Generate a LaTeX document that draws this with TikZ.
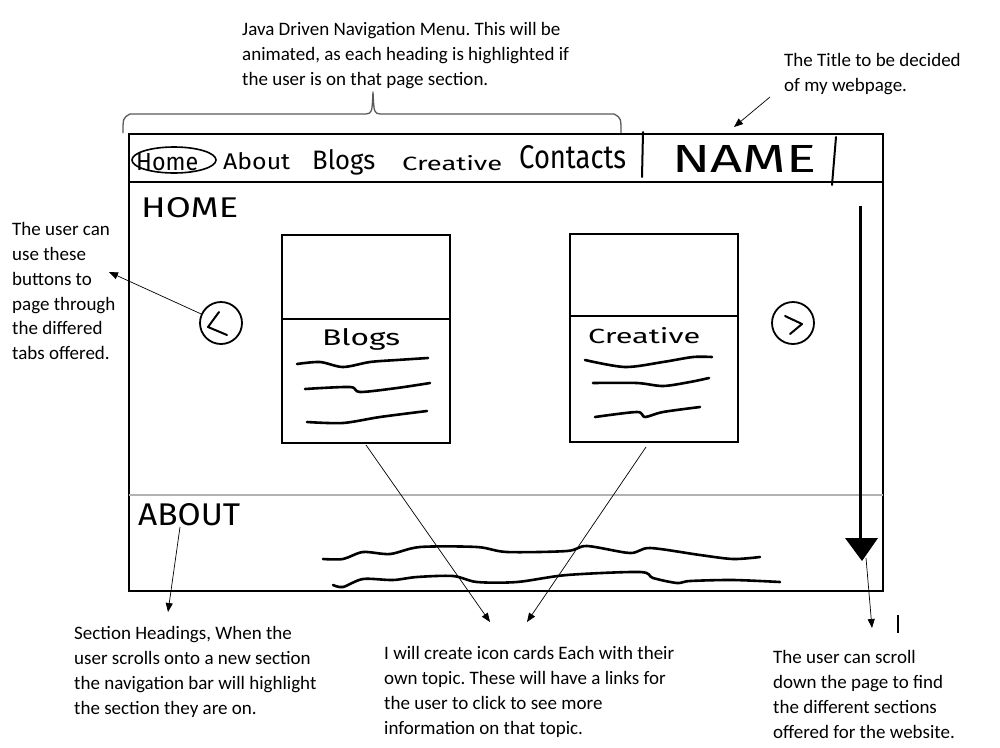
\documentclass[tikz,border=0pt]{standalone}
\usepackage{fontspec}
\usepackage{graphicx}
\setmainfont{Carlito}
\newfontfamily\handfont{Fira Sans}
\usetikzlibrary{arrows.meta}
\newcommand{\hw}[3]{\resizebox{#1pt}{#2pt}{\handfont #3}}
\begin{document}
\frenchspacing
\begin{tikzpicture}[x=1pt,y=-1pt,
  note/.style={font=\fontsize{19}{24.9}\selectfont, align=left, anchor=north west, inner sep=0pt},
  word/.style={anchor=base west, inner sep=0pt},
  frameline/.style={line width=1.8pt},
  cardbox/.style={draw, line width=2.2pt, minimum width=168pt, minimum height=208pt, inner sep=0pt},
  btn/.style={draw, circle, line width=1.8pt, minimum size=42pt, inner sep=0pt},
  squig/.style={line width=2.6pt, line cap=round, line join=round},
  ann/.style={-{Triangle[length=9pt,width=7pt]}, line width=0.7pt},
  chev/.style={line width=2pt, line cap=round, line join=round}]
\useasboundingbox (0,0) rectangle (1000,747);
\fill[white] (0,0) rectangle (1000,747);

% annotations
\node[note] (topnote) at (242,22) {Java Driven Navigation Menu. This will be\\animated, as each heading is highlighted if\\the user is on that page section.};
\node[note] (titlenote) at (784,53) {The Title to be decided\\of my webpage.};
\node[note] (btnnote) at (12,222) {The user can\\use these\\buttons to\\page through\\the differed\\tabs offered.};
\node[note] (secnote) at (74,626) {Section Headings, When the\\user scrolls onto a new section\\the navigation bar will highlight\\the section they are on.};
\node[note] (cardnote) at (384,646) {I will create icon cards Each with their\\own topic. These will have a links for\\the user to click to see more\\information on that topic.};
\node[note] (scrollnote) at (773,650) {The user can scroll\\down the page to find\\the different sections\\offered for the website.};

% brace
\draw[line width=1.3pt, black!65, line join=round]
  (123,133) .. controls (123,118) .. (130,114) -- (366,114) .. controls (372,113) .. (373,92)
  .. controls (374,113) .. (380,114) -- (614,114) .. controls (621,118) .. (621,133);

% frame
\draw[frameline] (129,134) rectangle (883,591);
\draw[line width=2.8pt] (129,182) -- (883,182);
\draw[line width=2.6pt, black!30] (129,495) -- (883,495);

% nav bar
\draw[line width=1.6pt] (174,160) ellipse (42pt and 13pt);
\node[word] (home) at (136,170) {\hw{62}{17}{Home}};
\node[word] (about) at (223,169) {\hw{67}{17}{About}};
\node[word] (blogs) at (312,169) {\hw{63}{20}{Blogs}};
\node[word] (creative) at (402,170) {\hw{100}{15}{Creative}};
\node[word] (contacts) at (519,168) {\hw{107}{23}{Contacts}};
\draw[line width=2pt, line cap=round] (643,132) -- (642,177);
\draw[line width=2pt, line cap=round] (836,137) -- (832,185);
\node[word] (name) at (672,172) {\hw{144}{27}{NAME}};

% section headings
\node[word] (homehead) at (141,217) {\hw{97}{20}{HOME}};
\node[word] (abouthead) at (138,525) {\hw{102}{22}{ABOUT}};

% buttons
\node[btn] (prev) at (221,323) {};
\node[btn] (next) at (793,323) {};
\draw[chev] (219,312) -- (208,327) -- (227,335);
\draw[chev] (785,316) -- (802,324) -- (790,334);

% cards
\node[cardbox] (card1) at (366,339) {};
\node[cardbox] (card2) at (654,338) {};
\draw[line width=2.2pt] (282,319) -- (450,319);
\draw[line width=2.2pt] (570,316) -- (738,316);
\node[word] (blogslbl) at (322,345) {\hw{78}{17}{Blogs}};
\node[word] (creativelbl) at (588,343) {\hw{112}{16}{Creative}};

\draw[squig] plot[smooth] coordinates {(297,364) (320,362) (343,367) (370,362) (397,360) (428,358)};
\draw[squig] plot[smooth] coordinates {(305,389) (350,387) (360,392) (397,388) (430,383)};
\draw[squig] plot[smooth] coordinates {(307,422) (343,423) (380,417) (427,411)};
\draw[squig] plot[smooth] coordinates {(585,360) (625,367) (663,362) (693,357) (712,357)};
\draw[squig] plot[smooth] coordinates {(593,383) (637,383) (663,386) (690,382) (709,378)};
\draw[squig] plot[smooth] coordinates {(595,417) (637,412) (645,417) (663,412) (700,407)};

% about squiggles
\draw[squig] plot[smooth] coordinates {(323,559) (343,559) (363,552) (390,554) (420,547) (477,547) (507,552) (567,551) (587,546) (630,553) (650,548) (700,555) (733,559) (760,557)};
\draw[squig] plot[smooth] coordinates {(333,585) (343,587) (363,579) (393,580) (417,577) (453,576) (477,582) (517,582) (567,575) (640,572) (653,578) (677,583) (690,581) (733,580) (780,582)};

% scroll arrow
\coordinate (scrolltop) at (860,206);
\coordinate (scrollhead) at (860,539);
\draw[line width=3pt] (scrolltop) -- (scrollhead);
\fill (845,538) -- (878,538) -- (862,561) -- cycle;

% connectors
\coordinate (titletail) at (770,97);
\coordinate (titletip) at (734,127);
\draw[ann] (titletail) -- (titletip);
\coordinate (btntip) at (109,272);
\draw[ann] (prev) -- (btntip);
\coordinate (abouttail) at (180,527);
\coordinate (abouttip) at (168,612);
\draw[ann] (abouttail) -- (abouttip);
\coordinate (card1tail) at (366,445);
\coordinate (card1tip) at (490,622);
\draw[ann] (card1tail) -- (card1tip);
\coordinate (card2tail) at (646,447);
\coordinate (card2tip) at (527,622);
\draw[ann] (card2tail) -- (card2tip);
\coordinate (scrolltail) at (866,558);
\coordinate (scrolltip) at (872,628);
\draw[ann] (scrolltail) -- (scrolltip);

% stray mark
\draw[line width=1.2pt] (898,615) -- (898,633);
\end{tikzpicture}
\end{document}
